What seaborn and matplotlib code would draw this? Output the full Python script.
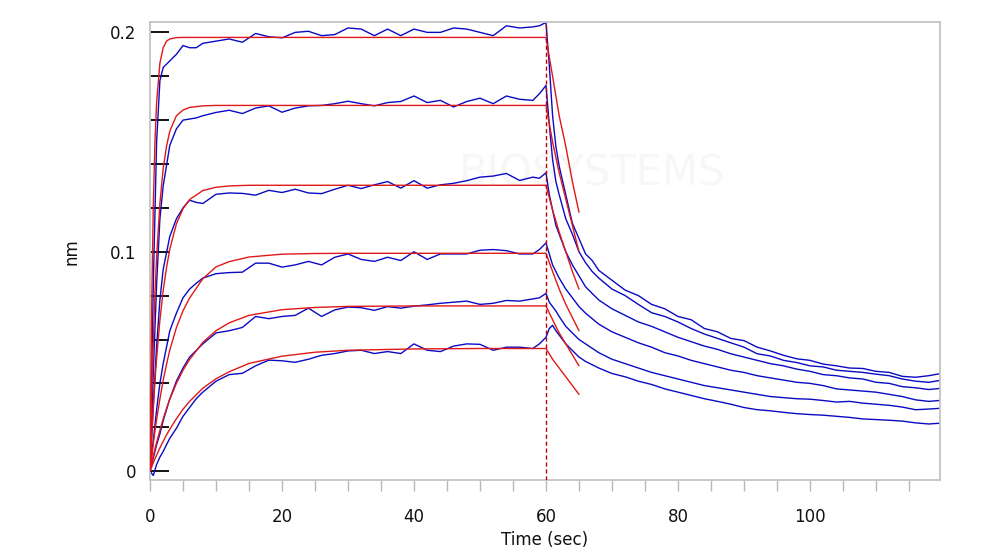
import seaborn as sns
import pandas as pd
import matplotlib
matplotlib.use("Agg")
import matplotlib.pyplot as plt
from matplotlib.ticker import FixedLocator

# time grid of the measured traces (sec)
t_blue = [0, 0.5, 1, 1.5, 2, 3, 4, 5, 6, 7, 8,
          10, 12, 14, 16, 18, 20, 22, 24, 26, 28, 30, 32, 34, 36, 38,
          40, 42, 44, 46, 48, 50, 52, 54, 56, 58, 59, 60,
          60.5, 61, 61.5, 62, 63, 64, 65, 66, 67, 68,
          70, 72, 74, 76, 78, 80, 82, 84, 86, 88, 90, 92, 94, 96, 98,
          100, 102, 104, 106, 108, 110, 112, 114, 116, 118, 120]

# measured response (nm), highest to lowest concentration
blue_1 = [0, 0.085, 0.15, 0.178, 0.184, 0.187, 0.19, 0.194, 0.193, 0.193, 0.195,
          0.196, 0.197, 0.1955, 0.1995, 0.198, 0.1975, 0.2, 0.2005, 0.1985, 0.199,
          0.202, 0.2015, 0.1985, 0.2015, 0.1985, 0.2015, 0.2, 0.2, 0.202, 0.2015,
          0.2, 0.1985, 0.203, 0.202, 0.2025, 0.203, 0.2045,
          0.185, 0.162, 0.148, 0.139, 0.126, 0.113, 0.106, 0.099, 0.096, 0.0915,
          0.087, 0.0825, 0.080, 0.076, 0.074, 0.0705, 0.069, 0.065, 0.0635, 0.0605,
          0.0595, 0.0565, 0.0548, 0.0528, 0.0512, 0.0505, 0.0488, 0.048, 0.047,
          0.0468, 0.0455, 0.045, 0.0432, 0.0428, 0.0435, 0.0446]
blue_2 = [0, 0.045, 0.085, 0.115, 0.13, 0.1485, 0.156, 0.16, 0.1605, 0.161, 0.162,
          0.1635, 0.1645, 0.163, 0.1655, 0.1665, 0.1636, 0.1655, 0.1665, 0.1667, 0.1675,
          0.1686, 0.1675, 0.1665, 0.168, 0.1685, 0.171, 0.168, 0.169, 0.166, 0.1685,
          0.17, 0.1675, 0.171, 0.1695, 0.169, 0.172, 0.1758,
          0.158, 0.142, 0.132, 0.126, 0.115, 0.108, 0.1, 0.095, 0.091, 0.088,
          0.083, 0.080, 0.076, 0.0722, 0.0705, 0.068, 0.065, 0.0625, 0.0605, 0.0585,
          0.0565, 0.0535, 0.0525, 0.0505, 0.0495, 0.048, 0.0475, 0.046, 0.0455,
          0.045, 0.0442, 0.0435, 0.042, 0.041, 0.0405, 0.0415]
blue_3 = [0, 0.03, 0.057, 0.078, 0.092, 0.107, 0.115, 0.12, 0.1235, 0.1225, 0.122,
          0.1262, 0.1268, 0.1266, 0.1258, 0.128, 0.127, 0.1285, 0.1268, 0.1265, 0.1285,
          0.1303, 0.1288, 0.1305, 0.132, 0.129, 0.1324, 0.129, 0.1305, 0.1312, 0.1324,
          0.134, 0.1345, 0.1357, 0.1325, 0.134, 0.1335, 0.136,
          0.126, 0.119, 0.112, 0.108, 0.100, 0.094, 0.089, 0.084, 0.081, 0.078,
          0.074, 0.071, 0.068, 0.066, 0.0635, 0.061, 0.059, 0.057, 0.0555, 0.0535,
          0.052, 0.0505, 0.049, 0.048, 0.0465, 0.0455, 0.044, 0.0435, 0.0425,
          0.042, 0.0405, 0.040, 0.0385, 0.038, 0.0372, 0.0378]
blue_4 = [0, 0.014, 0.028, 0.04, 0.049, 0.064, 0.072, 0.079, 0.083, 0.0856, 0.088,
          0.090, 0.0905, 0.0907, 0.0948, 0.0948, 0.093, 0.094, 0.0956, 0.094, 0.0975,
          0.099, 0.0965, 0.0956, 0.0975, 0.096, 0.1, 0.0965, 0.099, 0.099, 0.099,
          0.1007, 0.101, 0.1005, 0.099, 0.099, 0.101, 0.104,
          0.099, 0.094, 0.091, 0.088, 0.083, 0.079, 0.075, 0.072, 0.0695, 0.067,
          0.0635, 0.061, 0.0585, 0.0565, 0.054, 0.0525, 0.0505, 0.049, 0.0475, 0.046,
          0.045, 0.0435, 0.0425, 0.0415, 0.0405, 0.040, 0.039, 0.0375, 0.037,
          0.0365, 0.036, 0.035, 0.034, 0.0325, 0.0318, 0.0323]
blue_5 = [0, 0.006, 0.012, 0.017, 0.023, 0.033, 0.041, 0.047, 0.052, 0.055, 0.058,
          0.063, 0.064, 0.0655, 0.0705, 0.0695, 0.0705, 0.071, 0.0743, 0.0705, 0.0735,
          0.0748, 0.0745, 0.0733, 0.075, 0.0743, 0.0752, 0.0758, 0.0765, 0.077, 0.0775,
          0.076, 0.0765, 0.0778, 0.0775, 0.0785, 0.079, 0.081,
          0.077, 0.075, 0.073, 0.0705, 0.066, 0.063, 0.060, 0.058, 0.056, 0.054,
          0.051, 0.049, 0.047, 0.045, 0.0435, 0.042, 0.0405, 0.039, 0.038, 0.037,
          0.036, 0.035, 0.034, 0.0335, 0.033, 0.0328, 0.0322, 0.0315, 0.0318,
          0.031, 0.0305, 0.030, 0.0292, 0.028, 0.0283, 0.0287]
blue_6 = [0, -0.002, 0.003, 0.0064, 0.009, 0.015, 0.0195, 0.025, 0.029, 0.033, 0.036,
          0.041, 0.044, 0.0446, 0.048, 0.0506, 0.0503, 0.0496, 0.051, 0.0528, 0.0536,
          0.0548, 0.0551, 0.0536, 0.0545, 0.0536, 0.058, 0.0551, 0.0545, 0.057, 0.058,
          0.0578, 0.0551, 0.0565, 0.0565, 0.0559, 0.058, 0.061,
          0.065, 0.0665, 0.064, 0.062, 0.058, 0.055, 0.052, 0.050, 0.0485, 0.047,
          0.0445, 0.043, 0.041, 0.0395, 0.0375, 0.036, 0.0345, 0.033, 0.0318, 0.0305,
          0.029, 0.028, 0.0275, 0.0268, 0.0262, 0.0258, 0.0255, 0.025, 0.0245,
          0.0238, 0.0235, 0.0232, 0.0228, 0.022, 0.0215, 0.0219]

# fitted curves (association 0-60 s, start of dissociation 60-65 s)
t_fit = [0, 0.25, 0.5, 0.75, 1, 1.5, 2, 2.5, 3, 4, 5, 6, 8, 10, 12, 15, 20, 25, 30, 40, 50, 60,
         61, 62, 63, 64, 65]
fit_1 = [0, 0.074, 0.121, 0.150, 0.168, 0.186, 0.193, 0.196, 0.197, 0.1976, 0.1977, 0.1977,
         0.1977, 0.1977, 0.1977, 0.1977, 0.1977, 0.1977, 0.1977, 0.1977, 0.1977, 0.1977,
         0.180, 0.162, 0.148, 0.132, 0.118]
fit_2 = [0, 0.033, 0.059, 0.081, 0.0975, 0.122, 0.138, 0.148, 0.155, 0.162, 0.1646, 0.1658,
         0.1665, 0.1667, 0.1667, 0.1667, 0.1667, 0.1667, 0.1667, 0.1667, 0.1667, 0.1667,
         0.150, 0.136, 0.124, 0.112, 0.100]
fit_3 = [0, 0.0153, 0.0288, 0.0408, 0.0513, 0.0688, 0.0824, 0.0927, 0.1012, 0.1127, 0.1196,
         0.1238, 0.1279, 0.1294, 0.1300, 0.1303, 0.1303, 0.1303, 0.1303, 0.1303, 0.1303, 0.1303,
         0.119, 0.109, 0.100, 0.091, 0.083]
fit_4 = [0, 0.0065, 0.0126, 0.0183, 0.0235, 0.0329, 0.0415, 0.0486, 0.0552, 0.0654, 0.0731,
         0.0789, 0.0877, 0.0931, 0.0955, 0.0976, 0.0989, 0.0992, 0.0993, 0.0993, 0.0993, 0.0993,
         0.091, 0.083, 0.076, 0.070, 0.064]
fit_5 = [0, 0.0035, 0.0069, 0.0101, 0.0130, 0.0186, 0.0238, 0.0285, 0.0328, 0.0400, 0.0460,
         0.0509, 0.0587, 0.0640, 0.0676, 0.0710, 0.0736, 0.0746, 0.0751, 0.0753, 0.0753, 0.0753,
         0.069, 0.063, 0.058, 0.053, 0.048]
fit_6 = [0, 0.0019, 0.0038, 0.0056, 0.0073, 0.0106, 0.0136, 0.0165, 0.0191, 0.0239, 0.0282,
         0.0318, 0.0378, 0.0421, 0.0453, 0.0491, 0.0524, 0.0542, 0.0551, 0.0557, 0.0559, 0.0559,
         0.051, 0.047, 0.043, 0.039, 0.035]

blues = [blue_1, blue_2, blue_3, blue_4, blue_5, blue_6]
fits = [fit_1, fit_2, fit_3, fit_4, fit_5, fit_6]

sns.set_style("white")
plt.rcParams['font.family'] = ['DejaVu Sans']

fig = plt.figure(figsize=(10, 5.57), dpi=100)
ax = fig.add_axes([0.15, 0.138, 0.79, 0.822])

# faint watermark
ax.text(0.56, 0.67, "BIOSYSTEMS", transform=ax.transAxes, fontsize=30,
        color='#f7f7f7', ha='center', va='center', zorder=0)

for b in blues:
    sns.lineplot(x=t_blue, y=b, ax=ax, color='#0a0ac4', lw=1.0,
                 estimator=None, sort=False, zorder=2)
for f in fits:
    sns.lineplot(x=t_fit, y=f, ax=ax, color='#e01818', lw=1.0,
                 estimator=None, sort=False, zorder=3)

ax.axvline(60, color='#c00000', lw=1.0, ls=(0, (3, 2)), zorder=4)

ax.set_xlim(0, 119.7)
ax.set_ylim(-0.0041, 0.2046)

ax.set_xticks([0, 20, 40, 60, 80, 100])
ax.set_xticklabels(['0', '20', '40', '60', '80', '100'])
ax.xaxis.set_minor_locator(FixedLocator([5, 10, 15, 25, 30, 35, 45, 50, 55, 65, 70, 75,
                                         85, 90, 95, 105, 110, 115]))
ax.tick_params(axis='x', which='both', direction='out', length=8, width=1,
               color='#b8b8b8', labelsize=12, labelcolor='#111111', pad=12, bottom=True)

ax.set_yticks([0, 0.1, 0.2])
ax.set_yticklabels(['0', '0.1', '0.2'])
ax.yaxis.set_minor_locator(FixedLocator([0.02, 0.04, 0.06, 0.08, 0.12, 0.14, 0.16, 0.18]))
ax.tick_params(axis='y', which='both', direction='in', length=14, width=1.3,
               color='black', labelsize=12, labelcolor='#111111', pad=10, left=True)

for s in ax.spines.values():
    s.set_color('#c4c4c4')
    s.set_linewidth(1.3)

ax.set_xlabel('Time (sec)', fontsize=12, color='#111111')
ax.set_ylabel('nm', fontsize=12, color='#111111')
ax.xaxis.set_label_coords(0.5, -0.112)
ax.yaxis.set_label_coords(-0.088, 0.5)

fig.savefig('out.png', dpi=100)
